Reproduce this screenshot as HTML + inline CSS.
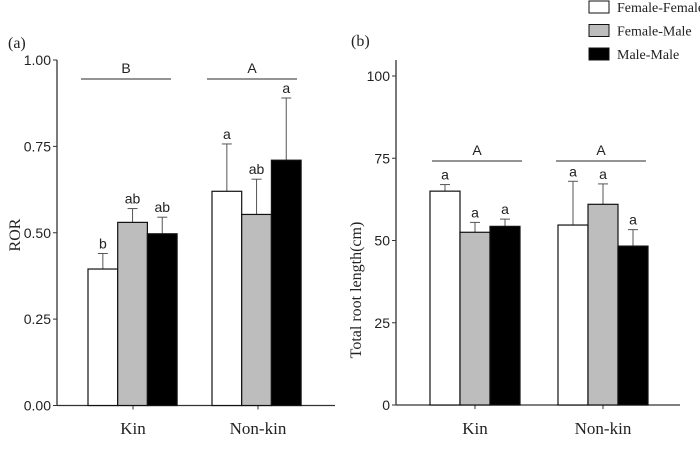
<!DOCTYPE html>
<html><head><meta charset="utf-8"><style>
body{margin:0;background:#fff}
svg text{fill:#222}
.s{font-family:"Liberation Sans",sans-serif;font-size:14px}
.r{font-family:"Liberation Serif",serif;font-size:16px}
</style></head><body>
<svg id="c" width="700" height="444" xmlns="http://www.w3.org/2000/svg"></svg>
<script>
const groups=["Kin","Non-kin"];
const series=["Female-Female","Female-Male","Male-Male"];
const colors=["#ffffff","#bdbdbd","#000000"];
const rorVals=[[0.395,0.53,0.497],[0.62,0.553,0.71]];
const rorErr=[[0.44,0.57,0.545],[0.757,0.655,0.89]];
const rorLetters=[["b","ab","ab"],["a","ab","a"]];
const rorGroupLetters=["B","A"];
const rorTicks=["0.00","0.25","0.50","0.75","1.00"];
const lenVals=[[65,52.5,54.3],[54.7,61,48.3]];
const lenErr=[[67,55.5,56.5],[68,67.2,53.3]];
const lenLetters=[["a","a","a"],["a","a","a"]];
const lenGroupLetters=["A","A"];
const lenTicks=["0","25","50","75","100"];
const svg=document.getElementById('c');
const NS="http://www.w3.org/2000/svg";
function mk(t,a,txt){const e=document.createElementNS(NS,t);for(const k in a)e.setAttribute(k,a[k]);if(txt!==undefined)e.textContent=txt;svg.appendChild(e);return e;}
function panel(p){
  const y=v=>p.y0-(v/p.max)*(p.y0-p.y1);
  let e=mk('line',{x1:p.ax,y1:p.top,x2:p.ax,y2:p.y0,stroke:'#333','stroke-width':1.3});
  
  e=mk('line',{x1:p.ax,y1:p.y0,x2:p.axEnd,y2:p.y0,stroke:'#333','stroke-width':1.3});
  
  p.ticks.forEach((t,i)=>{const v=parseFloat(t);const yy=y(v);
    mk('line',{x1:p.ax-4,y1:yy,x2:p.ax,y2:yy,stroke:'#333'});
    e=mk('text',{x:p.ax-6,y:yy+5,'text-anchor':'end',class:'s'},t);
    });
  groups.forEach((g,gi)=>{
    const x0=p.gx[gi];
    mk('line',{x1:p.gc[gi],y1:p.y0,x2:p.gc[gi],y2:p.y0+4,stroke:'#333'});
    e=mk('text',{x:p.gc[gi],y:434,'text-anchor':'middle',class:'r',style:'font-size:17px'},g);
    
    series.forEach((s,si)=>{
      const v=p.vals[gi][si],bx=x0+si*p.bw,cx=bx+p.bw/2;
      const ey=y(p.err[gi][si]);
      mk('line',{x1:cx,y1:y(v),x2:cx,y2:ey,stroke:'#555'});
      mk('line',{x1:cx-5,y1:ey,x2:cx+5,y2:ey,stroke:'#555'});
      e=mk('rect',{x:bx,y:y(v),width:p.bw,height:p.y0-y(v),fill:colors[si],stroke:'#111','stroke-width':1.2});
      
      e=mk('text',{x:cx,y:ey-5,'text-anchor':'middle',class:'s'},p.letters[gi][si]);
      
    });
    mk('line',{x1:p.sl[gi][0],y1:p.sy,x2:p.sl[gi][1],y2:p.sy,stroke:'#555','stroke-width':1.2});
    e=mk('text',{x:(p.sl[gi][0]+p.sl[gi][1])/2,y:p.sy-6,'text-anchor':'middle',class:'s'},p.gl[gi]);
    
  });
}
panel({id:'ror',ax:57,axEnd:335,top:60,y0:405.5,y1:60,max:1,ticks:rorTicks,vals:rorVals,err:rorErr,letters:rorLetters,gl:rorGroupLetters,gx:[88,212],gc:[133,258],bw:29.7,sy:79,sl:[[81,171],[207,297]]});
panel({id:'len',ax:396,axEnd:680,top:60,y0:405,y1:76,max:100,ticks:lenTicks,vals:lenVals,err:lenErr,letters:lenLetters,gl:lenGroupLetters,gx:[430,558],gc:[475,603],bw:30,sy:161,sl:[[432,522],[556,646]]});
let e=mk('text',{x:8,y:48,class:'r'},'(a)');
e=mk('text',{x:351,y:46,class:'r'},'(b)');
e=mk('text',{x:20,y:235,class:'r','text-anchor':'middle',transform:'rotate(-90 20 235)'},'ROR');
e=mk('text',{x:361,y:290,class:'r','text-anchor':'middle',transform:'rotate(-90 361 290)'},'Total root length(cm)');
series.forEach((s,i)=>{const yy=1+i*23.5;
  e=mk('rect',{x:589,y:yy,width:20,height:12,fill:colors[i],stroke:'#111'});
  
  e=mk('text',{x:617,y:yy+11,class:'r',style:'font-size:14px'},s);
  });
</script>
</body></html>
